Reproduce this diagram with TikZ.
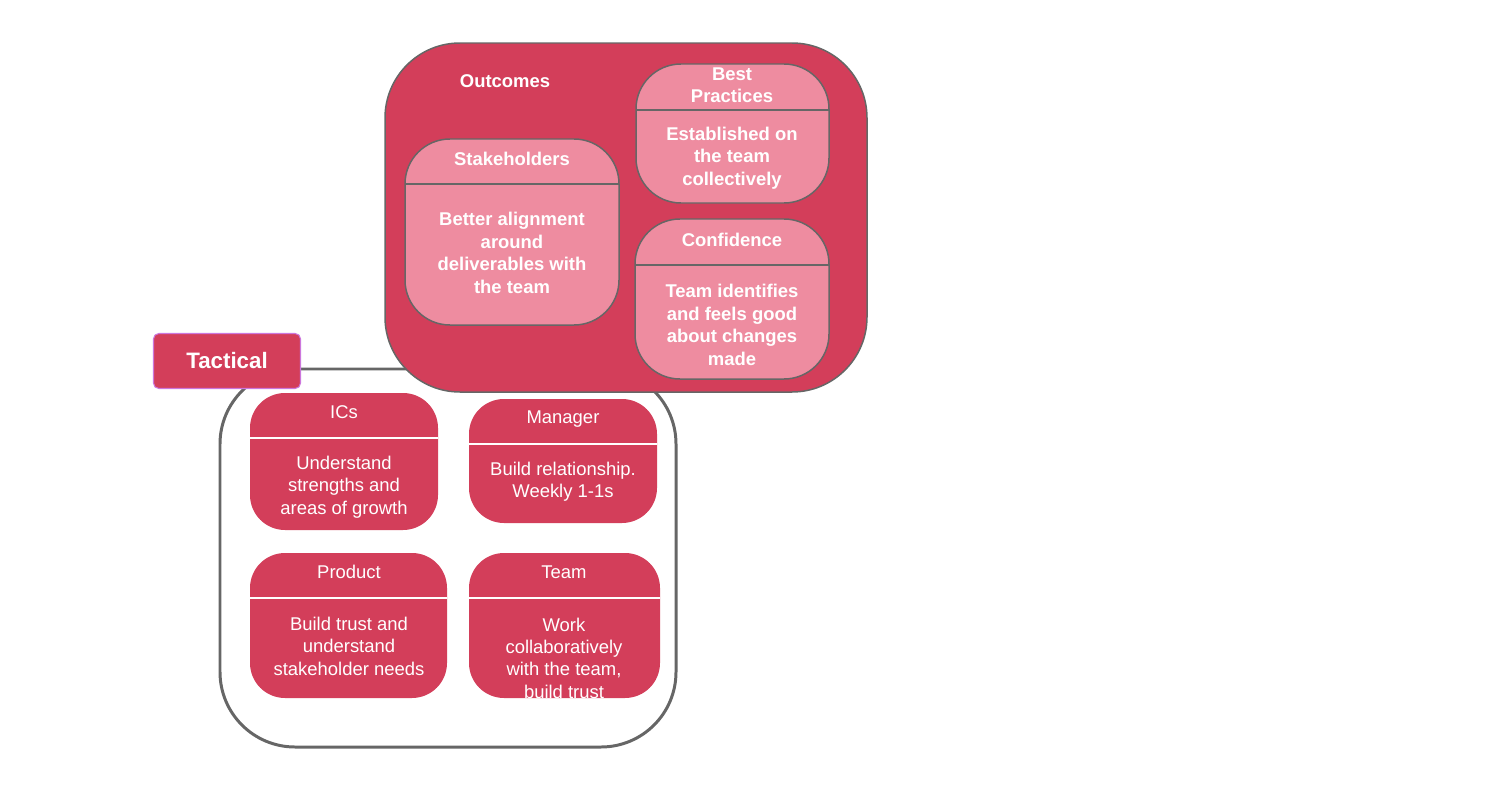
\documentclass[tikz,border=0pt]{standalone}
\usepackage{fontspec}
\setmainfont{Liberation Sans}
\usetikzlibrary{positioning}
\definecolor{crimson}{HTML}{D33E5A}
\definecolor{rosepink}{HTML}{EE8CA0}
\definecolor{framegray}{HTML}{666666}
\definecolor{lilac}{HTML}{CC77DD}

\tikzset{
  darkbox/.style={fill=crimson, draw=none, rounded corners=0.7cm},
  pinkbox/.style={fill=rosepink, draw=framegray, line width=0.85pt, rounded corners=0.9cm},
  txt/.style={text=white, align=center, inner sep=0pt, font=\fontsize{10.5}{12.75}\selectfont},
  boldtxt/.style={txt, font=\fontsize{10.5}{12.75}\selectfont\bfseries},
}

\begin{document}
\begin{tikzpicture}[x=0.02cm, y=-0.02cm]
\useasboundingbox (0,0) rectangle (1498,808);

% Tactical frame
\draw[framegray, line width=1.7pt, rounded corners=1.5cm] (220,369) rectangle (676,747);

% Outcomes container
\draw[fill=crimson, draw=framegray, line width=0.85pt, rounded corners=1.5cm] (385,43) rectangle (867,392);
\node[boldtxt] (outcomes) at (505,81) {Outcomes};

% Stakeholders
\draw[pinkbox] (405,139) rectangle (619,325);
\draw[framegray, line width=0.85pt] (405,184) -- (619,184);
\node[boldtxt] (stake) at (512,159) {Stakeholders};
\node[boldtxt] (stakebody) at (512,253) {Better alignment\\around\\deliverables with\\the team};

% Best practices
\draw[pinkbox] (636,64) rectangle (829,203);
\draw[framegray, line width=0.85pt] (636,110) -- (829,110);
\node[boldtxt] (best) at (732,85) {Best\\Practices};
\node[boldtxt] (bestbody) at (732,158) {Established on\\the team\\collectively};

% Confidence
\draw[pinkbox] (635,219) rectangle (829,379);
\draw[framegray, line width=0.85pt] (635,265) -- (829,265);
\node[boldtxt] (conf) at (732,240) {Confidence};
\node[boldtxt] (confbody) at (732,325) {Team identifies\\and feels good\\about changes\\made};

% Tactical label
\node[fill=crimson, draw=lilac, line width=0.6pt, rounded corners=3pt, minimum width=2.94cm, minimum height=1.1cm, text=white, font=\fontsize{12.7}{15}\selectfont\bfseries] (tactical) at (227,361) {Tactical};

% ICs
\fill[darkbox] (250,393) rectangle (438,530);
\draw[white, line width=0.6pt] (250,438) -- (438,438);
\node[txt] (ics) at (344,412) {ICs};
\node[txt] (icsbody) at (344,487) {Understand\\strengths and\\areas of growth};

% Manager
\fill[darkbox] (469,399) rectangle (657,523);
\draw[white, line width=0.6pt] (469,444) -- (657,444);
\node[txt] (manager) at (563,419) {Manager};
\node[txt] (managerbody) at (563,482) {Build relationship.\\Weekly 1-1s};

% Product
\fill[darkbox] (250,553) rectangle (447,698);
\draw[white, line width=0.6pt] (250,598) -- (447,598);
\node[txt] (product) at (349,572) {Product};
\node[txt] (productbody) at (349,646) {Build trust and\\understand\\stakeholder needs};

% Team
\fill[darkbox] (469,553) rectangle (660,698);
\draw[white, line width=0.6pt] (469,598) -- (660,598);
\node[txt] (team) at (564,572) {Team};
\node[txt] (teambody) at (564,658) {Work\\collaboratively\\with the team,\\build trust};

\end{tikzpicture}
\end{document}
